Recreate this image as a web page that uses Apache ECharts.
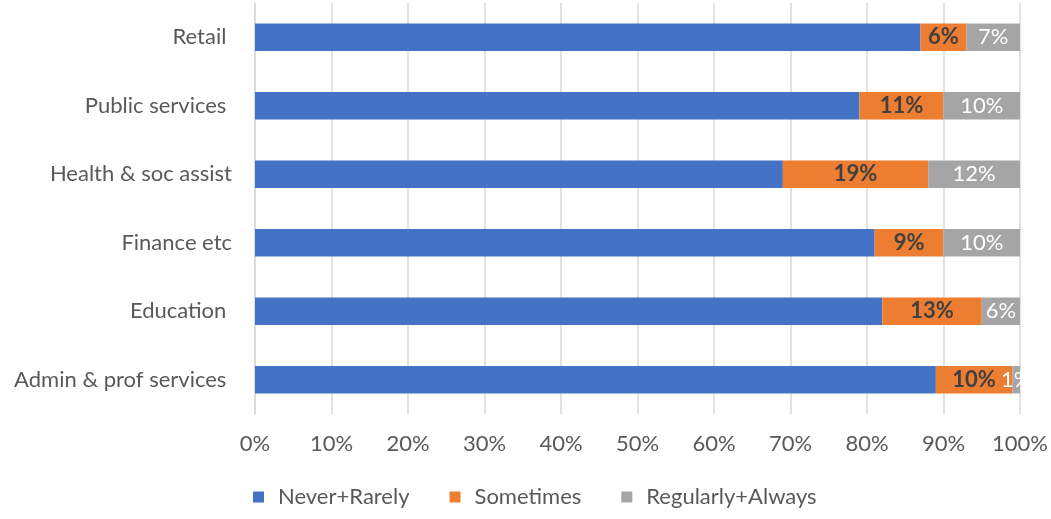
<!DOCTYPE html>
<html>
<head>
<meta charset="utf-8">
<script src="https://cdn.jsdelivr.net/npm/echarts@6/dist/echarts.min.js"></script>
<style>
  html, body { margin: 0; padding: 0; background: #fff; }
  #chart-container { width: 1051px; height: 519px; }
</style>
</head>
<body>
<div id="chart-container"></div>
<script>
var categories = ['Admin & prof services ', 'Education ', 'Finance etc', 'Health & soc assist', 'Public services ', 'Retail '];
var neverRarely = [89, 82, 81, 69, 79, 87];
var sometimes = [10, 13, 9, 19, 11, 6];
var regularlyAlways = [1, 5.6, 10, 12, 10, 7];
var tickLabels = ['0%', '10%', '20%', '30%', '40%', '50%', '60%', '70%', '80%', '90%', '100%'];

var font = 'Lato, "Open Sans", sans-serif';
var fs = 22;
var dom = document.getElementById('chart-container');
var myChart = echarts.init(dom, null, {renderer: 'canvas'});

function pct(p) { return Math.round(p.value) + '%'; }

option = {
  animation: false,
  textStyle: {fontFamily: font},
  grid: {left: 255, right: 31, top: 3, bottom: 105, containLabel: false},
  legend: {
    bottom: 6, left: 248,
    itemWidth: 11, itemHeight: 11, itemGap: 40,
    icon: 'rect',
    textStyle: {fontSize: fs, color: '#595959', fontFamily: font, padding: [0, 0, 0, 9]},
    data: ['Never+Rarely', 'Sometimes', 'Regularly+Always']
  },
  xAxis: {
    type: 'value', min: 0, max: 100, interval: 10,
    axisLine: {show: false}, axisTick: {show: false},
    splitLine: {lineStyle: {color: '#d9d9d9', width: 1.5}},
    axisLabel: {
      margin: 19, fontSize: fs, color: '#595959', fontFamily: font,
      formatter: function (v) { return tickLabels[Math.round(v / 10)]; }
    }
  },
  yAxis: {
    type: 'category', data: categories,
    axisLine: {show: true, lineStyle: {color: '#d9d9d9', width: 1.5}},
    axisTick: {show: false},
    axisLabel: {margin: 23, fontSize: fs, color: '#595959', fontFamily: font}
  },
  series: [
    {
      name: 'Never+Rarely', type: 'bar', stack: 'total', barWidth: '40%',
      itemStyle: {color: '#4472C4'},
      data: neverRarely
    },
    {
      name: 'Sometimes', type: 'bar', stack: 'total',
      itemStyle: {color: '#ED7D31'},
      label: {show: true, position: 'inside', formatter: pct, fontSize: fs, fontWeight: 'bold', color: '#404040', fontFamily: font},
      data: sometimes
    },
    {
      name: 'Regularly+Always', type: 'bar', stack: 'total',
      itemStyle: {color: '#A5A5A5'},
      label: {show: true, position: 'inside', formatter: pct, fontSize: fs, color: '#ffffff', fontFamily: font},
      data: regularlyAlways
    }
  ]
};

myChart.setOption(option);
window.addEventListener('resize', myChart.resize);
</script>
</body>
</html>
